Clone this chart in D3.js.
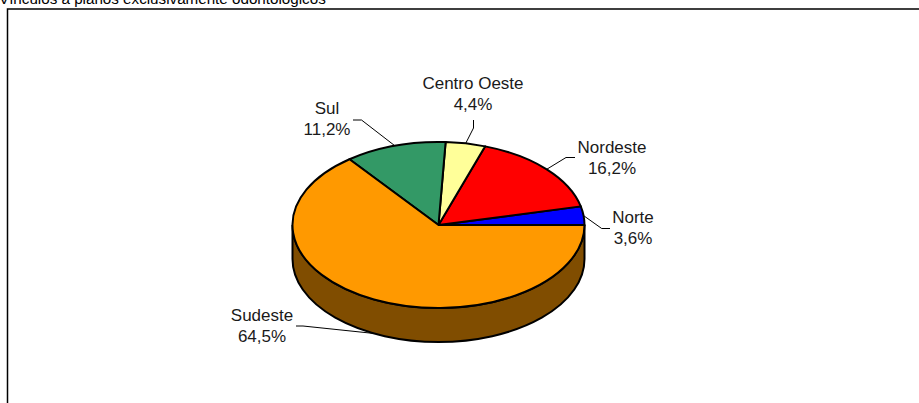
<!DOCTYPE html>
<html><head><meta charset="utf-8">
<script src="https://cdn.jsdelivr.net/npm/d3@7"></script>
<style>html,body{margin:0;padding:0;background:#fff;overflow:hidden}svg{display:block}text{font-family:"Liberation Sans",Arial,sans-serif}</style>
</head><body><svg id="c" width="919" height="403"></svg>
<script>
const categories = ["Norte","Nordeste","Centro Oeste","Sul","Sudeste"];
const values = [3.6,16.2,4.4,11.2,64.5];
const valueLabels = ["3,6%","16,2%","4,4%","11,2%","64,5%"];
const colors = ["#0000ff","#ff0000","#ffff99","#339966","#ff9900"];
const sideColor = "#804d00";
const titleText = "Vínculos a planos exclusivamente odontológicos";

const W=919,H=403,cx=438.5,cy=225,rx=146,ry=83,depth=34;
const leaderLayout = [
  {bend:[601.7,228.5],end:[610,228.5],label:[633,217]},
  {bend:[566,157.5],end:[575,157.5],label:[612,147]},
  {bend:[473.5,128],end:[473.5,120],label:[473,83]},
  {bend:[361.5,120],end:[353,120],label:[327,108]},
  {bend:[303,326],end:[296,326],label:[262,315]}
];
const svg=d3.select("#c");
svg.append("text").attr("x",-1).attr("y",4).attr("font-size",15.2).attr("fill","#000").text(titleText);
svg.append("path").attr("d",d3.line()([[7.5,403],[7.5,9],[919,9]])).attr("fill","none").attr("stroke","#000").attr("stroke-width",1.5);

const pie=d3.pie().sort(null).value(d=>d).startAngle(Math.PI/2).endAngle(Math.PI/2-2*Math.PI);
const arcs=pie(values);
const arc=d3.arc().innerRadius(0).outerRadius(rx);
const sy=ry/rx;

svg.append("path")
 .attr("d",`M${cx-rx},${cy}A${rx},${ry} 0 0 0 ${cx+rx},${cy}V${cy+depth}A${rx},${ry} 0 0 1 ${cx-rx},${cy+depth}Z`)
 .attr("fill",sideColor).attr("stroke","#000").attr("stroke-width",2);

svg.append("g").attr("transform",`translate(${cx},${cy}) scale(1,${sy})`)
 .selectAll("path").data(arcs).join("path")
 .attr("d",arc).attr("fill",(d,i)=>colors[i]).attr("stroke","#000").attr("stroke-width",2)
 .attr("stroke-linejoin","round").attr("vector-effect","non-scaling-stroke");

arcs.forEach((d,i)=>{
  const m=(d.startAngle+d.endAngle)/2;
  const px=cx+rx*Math.sin(m), py=cy-ry*Math.cos(m)+(Math.cos(m)<0?depth:0);
  const L=leaderLayout[i];
  svg.append("path").attr("d",d3.line()([[px,py],L.bend,L.end])).attr("fill","none").attr("stroke","#000").attr("stroke-width",1);
  const t=svg.append("text").attr("text-anchor","middle").attr("font-size",17).attr("fill","#1a1a1a");
  t.append("tspan").attr("x",L.label[0]).attr("y",L.label[1]+6).text(categories[i]);
  t.append("tspan").attr("x",L.label[0]).attr("y",L.label[1]+27).text(valueLabels[i]);
});
</script></body></html>
